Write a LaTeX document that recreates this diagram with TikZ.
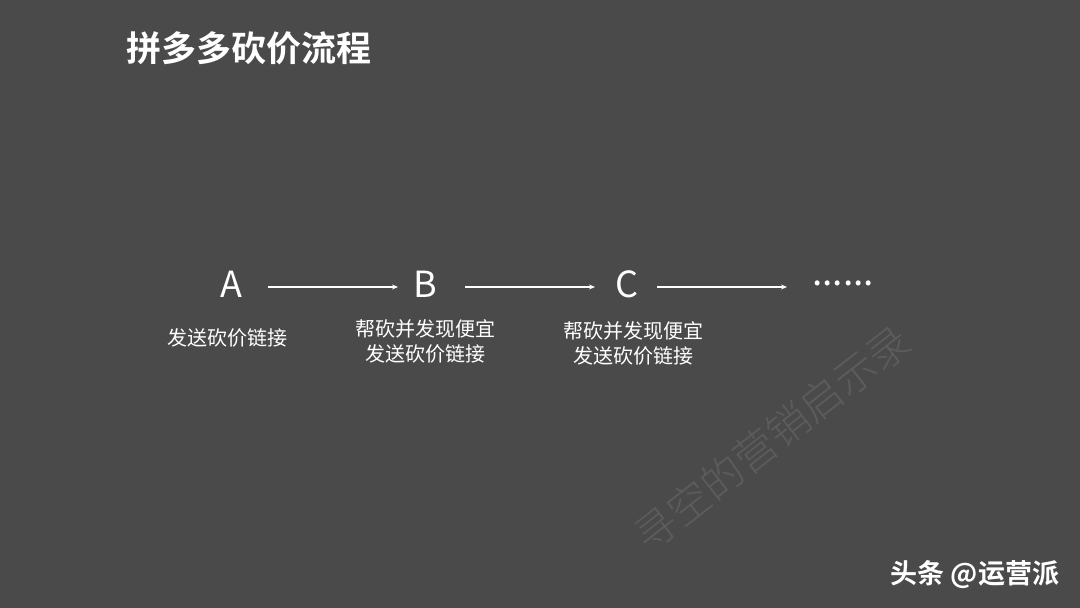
\documentclass[tikz,border=0pt]{standalone}
\usepackage{fontspec}
\setmainfont{Noto Sans CJK SC}
\newfontfamily\cjkb{Noto Sans CJK SC Bold}
\newfontfamily\cjkl{Noto Sans CJK SC Light}
\usetikzlibrary{arrows.meta}
\definecolor{bg}{HTML}{4A4A4A}
\definecolor{wm}{HTML}{5C5C5C}
\tikzset{
  letter/.style={text=white,inner sep=0pt,font=\fontsize{36}{36}\selectfont},
  lab/.style={text=white,inner sep=0pt,align=center,font=\fontsize{20}{25}\selectfont},
  flow/.style={draw=white,line width=1.3pt,-{Stealth[length=6pt,width=5pt]}},
}
\begin{document}
\begin{tikzpicture}[x=1pt,y=-1pt]
\fill[bg] (0,0) rectangle (1080,608);
\useasboundingbox (0,0) rectangle (1080,608);
% watermark
\node[text=wm,rotate=38,inner sep=0pt,font=\cjkl\fontsize{42}{42}\selectfont] (wmk) at (772,438) {寻空的营销启示录};
% title
\node[text=white,anchor=west,inner sep=0pt,font=\cjkb\fontsize{35}{35}\selectfont] (title) at (126,48) {拼多多砍价流程};
% letters
\node[letter] (A) at (231,284) {A};
\node[letter] (B) at (425,284) {B};
\node[letter] (C) at (627,284) {C};
\node[text=white,inner sep=0pt,anchor=base west,font=\fontsize{37}{37}\selectfont] (D) at (812,285) {......};
% arrows
\coordinate (a1) at (268,287); \coordinate (a2) at (398,287);
\coordinate (b1) at (465,287); \coordinate (b2) at (595,287);
\coordinate (c1) at (657,287); \coordinate (c2) at (787,287);
\draw[flow] (a1) -- (a2);
\draw[flow] (b1) -- (b2);
\draw[flow] (c1) -- (c2);
% labels
\node[lab] (la) at (227,338) {发送砍价链接};
\node[lab] (lb) at (425,341) {帮砍并发现便宜\\发送砍价链接};
\node[lab] (lc) at (633,343) {帮砍并发现便宜\\发送砍价链接};
% footer
\node[text=black!70,inner sep=0pt,font=\cjkb\fontsize{27}{27}\selectfont] at (976.5,576.5) {头条 @运营派};
\node[text=white,inner sep=0pt,font=\cjkb\fontsize{27}{27}\selectfont] (foot) at (975,575) {头条 @运营派};
\end{tikzpicture}
\end{document}
